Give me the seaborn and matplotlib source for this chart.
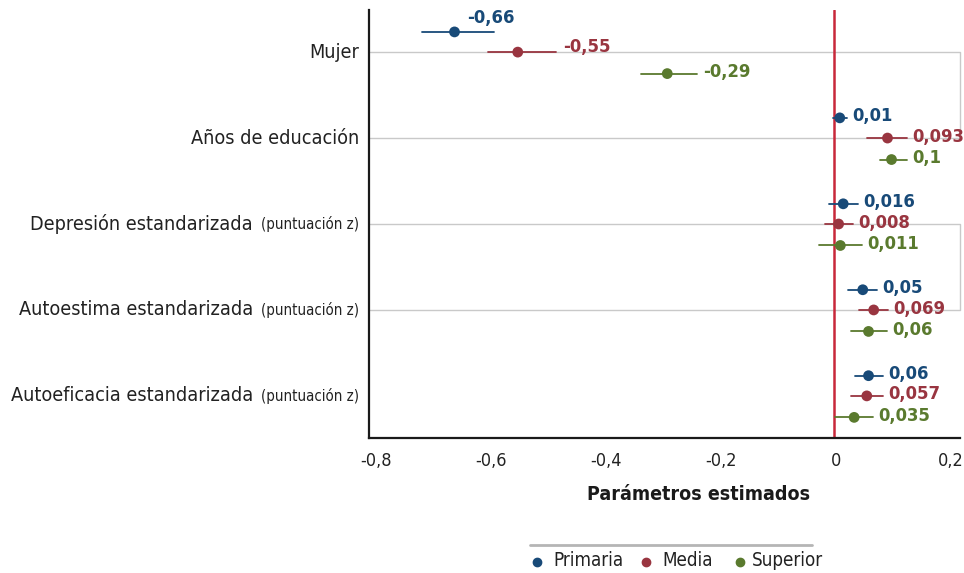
import matplotlib
matplotlib.use("Agg")
import matplotlib.pyplot as plt
from matplotlib.transforms import ScaledTranslation
import seaborn as sns
import pandas as pd

# Estimated parameters by education level, with their confidence bounds
variables = ["Mujer", "Años de educación", "Depresión estandarizada",
             "Autoestima estandarizada", "Autoeficacia estandarizada"]
variable_notes = ["", "", "(puntuación z)", "(puntuación z)", "(puntuación z)"]
levels = ["Primaria", "Media", "Superior"]

primaria = [-0.66, 0.01, 0.016, 0.05, 0.06]
media = [-0.55, 0.093, 0.008, 0.069, 0.057]
superior = [-0.29, 0.1, 0.011, 0.06, 0.035]

primaria_low = [-0.717, -0.001, -0.009, 0.024, 0.037]
primaria_high = [-0.591, 0.022, 0.041, 0.075, 0.085]
media_low = [-0.602, 0.057, -0.016, 0.044, 0.030]
media_high = [-0.483, 0.127, 0.033, 0.094, 0.085]
superior_low = [-0.336, 0.080, -0.026, 0.029, 0.002]
superior_high = [-0.238, 0.127, 0.049, 0.092, 0.068]

x_ticks = [-0.8, -0.6, -0.4, -0.2, 0.0, 0.2]
x_tick_labels = ["-0,8", "-0,6", "-0,4", "-0,2", "0", "0,2"]

colors = {"Primaria": "#184a78", "Media": "#993540", "Superior": "#5a7a2e"}
offsets = {"Primaria": -0.235, "Media": 0.0, "Superior": 0.25}

rows = []
for lvl, vals, lo, hi in [("Primaria", primaria, primaria_low, primaria_high),
                          ("Media", media, media_low, media_high),
                          ("Superior", superior, superior_low, superior_high)]:
    for i, var in enumerate(variables):
        rows.append({"variable": var, "nivel": lvl, "estimate": vals[i],
                     "low": lo[i], "high": hi[i], "pos": i + offsets[lvl]})
df = pd.DataFrame(rows)

sns.set_theme(style="white")
plt.rcParams["font.family"] = ["DejaVu Sans"]
plt.rcParams["font.stretch"] = "condensed"

fig = plt.figure(figsize=(9.64, 5.73), dpi=100)
ax = fig.add_axes([369 / 964, 1 - 438 / 573, (960 - 369) / 964, (438 - 10) / 573])

xmin, xmax = -0.8087, 0.2191
ax.set_xlim(xmin, xmax)
ax.set_ylim(4.49, -0.49)

# light grey frames linking pairs of variable rows
for a, b in [(0, 1), (2, 3)]:
    ax.plot([xmin, xmax, xmax, xmin], [a, a, b, b], color="#c9c9c9",
            lw=1.0, zorder=1, clip_on=False)

# zero reference line
ax.axvline(0, color="#c8283a", lw=1.8, zorder=2)

# confidence intervals
for _, r in df.iterrows():
    ax.plot([r["low"], r["high"]], [r["pos"], r["pos"]],
            color=colors[r["nivel"]], lw=1.3, zorder=3)

sns.scatterplot(data=df, x="estimate", y="pos", hue="nivel", palette=colors,
                hue_order=levels, s=60, edgecolor="none", legend=False,
                ax=ax, zorder=4)

# value labels
nudges = {("Mujer", "Primaria"): ("estimate", 9, 10),
          ("Mujer", "Media"): ("high", 5, 4)}
for _, r in df.iterrows():
    base, dx, dy = nudges.get((r["variable"], r["nivel"]), ("high", 4, 1))
    ax.annotate(f"{r['estimate']:g}".replace(".", ","),
                xy=(r[base], r["pos"]), xytext=(dx, dy),
                textcoords="offset points", ha="left", va="center",
                fontsize=13.2, fontweight="bold", color=colors[r["nivel"]],
                zorder=5, annotation_clip=False)

# axes styling
for side in ["top", "right"]:
    ax.spines[side].set_visible(False)
for side in ["left", "bottom"]:
    ax.spines[side].set_color("#1a1a1a")
    ax.spines[side].set_linewidth(1.6)
ax.set_xticks(x_ticks)
ax.set_xticklabels(x_tick_labels, fontsize=13, color="#222222")
ax.tick_params(axis="x", length=0, pad=10)
for lab in ax.get_xticklabels():
    lab.set_transform(lab.get_transform()
                      + ScaledTranslation(0.02, 0, fig.dpi_scale_trans))
ax.set_yticks(range(len(variables)))
ax.set_yticklabels([])
ax.tick_params(axis="y", length=0)
ax.set_xlabel("")
ax.set_ylabel("")

# category labels: main text plus smaller note
fig.canvas.draw()
renderer = fig.canvas.get_renderer()
trans = ax.get_yaxis_transform()
ax_w = ax.get_window_extent(renderer).width
for i, (var, note) in enumerate(zip(variables, variable_notes)):
    right = -10 / ax_w
    if note:
        t = ax.text(right, i, note, transform=trans, ha="right", va="center",
                    fontsize=10.8, color="#222222")
        bb = t.get_window_extent(renderer)
        right -= (bb.width + 8) / ax_w
    ax.text(right, i, var, transform=trans, ha="right", va="center",
            fontsize=14.2, color="#222222")

fig.text(699 / 964, 1 - 495 / 573, "Parámetros estimados", ha="center",
         va="center", fontsize=14, fontweight="bold", color="#1a1a1a")

# legend strip
fig.add_artist(plt.Line2D([530 / 964, 812 / 964], [1 - 545 / 573] * 2,
                          transform=fig.transFigure, color="#b5b5b5", lw=2))
for lvl, xd, xt in [("Primaria", 537, 553), ("Media", 646, 662),
                    ("Superior", 740, 752)]:
    fig.add_artist(plt.Line2D([xd / 964], [1 - 562 / 573], marker="o",
                              markersize=6, color=colors[lvl], lw=0,
                              transform=fig.transFigure))
    fig.text(xt / 964, 1 - 561 / 573, lvl, ha="left", va="center",
             fontsize=13.5, color="#222222")

fig.savefig("out.png", dpi=100)
